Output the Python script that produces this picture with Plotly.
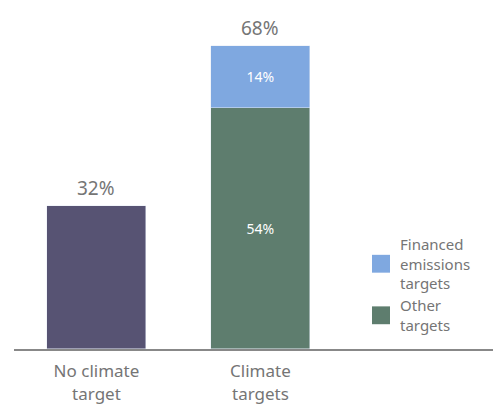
import plotly.graph_objects as go

categories = ["No climate<br>target", "Climate<br>targets"]
no_target = [32, None]
other_targets = [None, 54]
financed_targets = [None, 14]
totals = [32, 68]
legend_labels = ["Financed<br>emissions<br>targets", "Other<br>targets"]

C_PURPLE = "#575373"
C_GREEN = "#5E7D6E"
C_BLUE = "#7FA8E0"
GRAY = "#757575"
FONT = "Noto Sans"

W, H = 493, 397          # page has an 8px body margin
L, R, T, B = 6, 0, 0, 53
PW, PH = W - L - R, H - T - B
OFF = 8

fig = go.Figure()
fig.add_bar(x=categories, y=no_target, marker_color=C_PURPLE, width=0.604,
            showlegend=False, hoverinfo="skip")
fig.add_bar(x=categories, y=other_targets, marker_color=C_GREEN, width=0.604,
            text=[None if v is None else f"{v}%" for v in other_targets],
            textposition="inside", insidetextanchor="middle",
            textfont=dict(color="white", size=14, family=FONT),
            showlegend=False, hoverinfo="skip")
fig.add_bar(x=categories, y=financed_targets, marker_color=C_BLUE, width=0.604,
            text=[None if v is None else f"{v}%" for v in financed_targets],
            textposition="inside", insidetextanchor="middle",
            textfont=dict(color="white", size=14, family=FONT),
            showlegend=False, hoverinfo="skip")

for c, t in zip(categories, totals):
    fig.add_annotation(x=c, y=t, text=f"{t}%", showarrow=False, yanchor="bottom",
                       yshift=3, font=dict(size=19, color=GRAY, family=FONT))

# manual legend (screen pixel positions)
legend_colors = [C_BLUE, C_GREEN]
legend_y = [266, 318]
for col, lab, yc in zip(legend_colors, legend_labels, legend_y):
    ys = yc - OFF
    fig.add_shape(type="rect", xref="paper", yref="paper",
                  x0=(372 - OFF - L) / PW, x1=(390 - OFF - L) / PW,
                  y0=(PH - (ys + 9)) / PH, y1=(PH - (ys - 9)) / PH,
                  fillcolor=col, line_width=0)
    fig.add_annotation(xref="paper", yref="paper", x=(398 - OFF - L) / PW,
                       y=(PH - ys) / PH, text=lab, showarrow=False,
                       xanchor="left", yanchor="middle", align="left",
                       font=dict(size=15, color=GRAY, family=FONT))

fig.update_layout(
    width=W, height=H, barmode="stack", bargap=0,
    margin=dict(l=L, r=R, t=T, b=B),
    plot_bgcolor="white", paper_bgcolor="white",
    font=dict(family=FONT, color=GRAY),
    xaxis=dict(range=[-0.503, 2.467], showline=True, linecolor="#888888",
               linewidth=2, showgrid=False, ticks="", zeroline=False,
               tickfont=dict(size=17, color=GRAY, family=FONT),
               ticklabelstandoff=6, fixedrange=True),
    yaxis=dict(range=[0, 76.5], visible=False, showgrid=False, zeroline=False),
)

fig.write_html("out.html")
